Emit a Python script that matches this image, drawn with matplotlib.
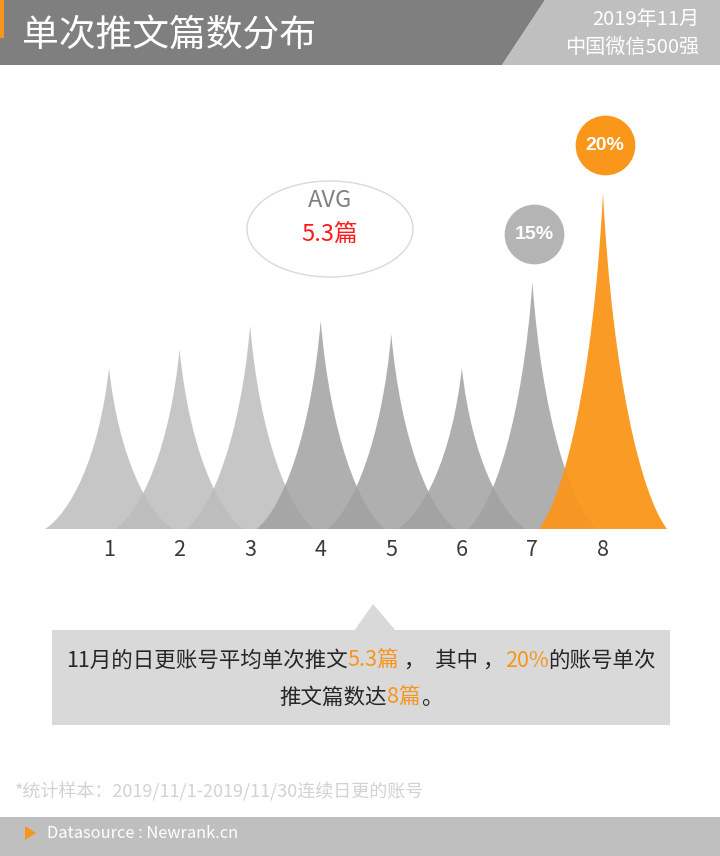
import numpy as np
import matplotlib
matplotlib.use("Agg")
import matplotlib.pyplot as plt
from matplotlib.path import Path
from matplotlib.patches import PathPatch, Polygon, Rectangle, Ellipse
from matplotlib.transforms import ScaledTranslation

plt.rcParams['font.family'] = ['Noto Sans CJK SC', 'DejaVu Sans']

# data (share of accounts, %)
categories = [1, 2, 3, 4, 5, 6, 7, 8]
shares = [9.6, 10.7, 12.1, 12.4, 11.6, 9.6, 14.7, 20.0]
badge_labels = ["", "", "", "", "", "", "15%", "20%"]
avg_posts = "5.3篇"

title = "单次推文篇数分布"
period = "2019年11月"
scope = "中国微信500强"
note = "*统计样本：2019/11/1-2019/11/30连续日更的账号"
source = "Datasource : Newrank.cn"
summary_lines = [
    [("11月的日更账号平均单次推文", "k"), ("5.3篇", "o"), (" ，  其中 ，", "k"),
     ("20%", "o"), ("的账号单次", "k")],
    [("推文篇数达", "k"), ("8篇", "o"), ("。", "k")],
]

W, H = 720, 856
ORANGE = "#fa961a"
LIGHT = "#bcbcbc"
DARK = "#a1a1a1"

fig = plt.figure(figsize=(W / 100, H / 100), dpi=100)

# overlay axes in pixel coordinates for the decorations
deco = fig.add_axes([0, 0, 1, 1])
deco.set_xlim(0, W)
deco.set_ylim(H, 0)
deco.axis("off")

# header
deco.add_patch(Polygon([(0, 0), (545, 0), (502, 65), (0, 65)], closed=True,
                       facecolor="#7f7f7f", edgecolor="none"))
deco.add_patch(Polygon([(545, 0), (W, 0), (W, 65), (502, 65)], closed=True,
                       facecolor="#bfbfbf", edgecolor="none"))
deco.add_patch(Rectangle((0, 0), 4, 38, facecolor="#f7941d", edgecolor="none"))
deco.text(22, 36, title, color="white", fontsize=26.5, va="center", ha="left")
deco.text(699, 19, period, color="white", fontsize=14.5, va="center", ha="right")
deco.text(699, 47, scope, color="white", fontsize=14.5, va="center", ha="right")

# AVG bubble
deco.add_patch(Ellipse((330, 229), 166, 96, facecolor="none",
                       edgecolor="#d9d9d9", lw=1))
deco.text(330, 200, "AVG", color="#808080", fontsize=17, ha="center",
          va="center", fontweight="light")
deco.text(330, 235, avg_posts, color="#ff1a1a", fontsize=17, ha="center",
          va="center", fontweight="light")

# summary callout
deco.add_patch(Rectangle((52, 630), 618, 95, facecolor="#d9d9d9",
                         edgecolor="none"))
deco.add_patch(Polygon([(354, 631), (373, 604), (396, 631)], closed=True,
                       facecolor="#d9d9d9", edgecolor="none"))

renderer = fig.canvas.get_renderer()
for line, y in zip(summary_lines, [661, 698]):
    texts = []
    for s, c in line:
        t = deco.text(0, y, s, fontsize=15.5, va="center", ha="left",
                      color="#f7941d" if c == "o" else "#262626")
        texts.append(t)
    widths = [t.get_window_extent(renderer).width for t in texts]
    x0 = 361 - sum(widths) / 2
    for t, w in zip(texts, widths):
        t.set_x(x0)
        x0 += w

# footnote and footer
deco.text(15, 792, note, color="#d2d2d2", fontsize=13, va="center", ha="left")
deco.add_patch(Rectangle((0, 817), W, 39, facecolor="#bfbfbf", edgecolor="none"))
deco.add_patch(Polygon([(25, 826), (36, 833), (25, 840)], closed=True,
                       facecolor="#f7941d", edgecolor="none"))
deco.text(47, 833, source, color="white", fontsize=11.8, va="center", ha="left")

# chart axes: baseline at y=529px, 20% reaches y=193px
px_unit = 7 / (603 - 109)
ax = fig.add_axes([40 / W, (H - 529) / H, 632 / W, 429 / H])
ax.set_xlim(1 - 69 * px_unit, 8 + 69 * px_unit)
ax.set_ylim(0, 429 / 16.8)
ax.patch.set_alpha(0)
for sp in ax.spines.values():
    sp.set_visible(False)
ax.set_yticks([])
ax.set_xticks(categories)
ax.set_xticklabels([str(c) for c in categories])
ax.tick_params(axis="x", length=0, pad=7, labelsize=15.5, labelcolor="#3a3a3a")

half = 64 * px_unit


def spike(xc, h):
    # concave spike made of two cubic curves
    verts = [(xc - half, 0),
             (xc - 0.6 * half, 0.1 * h), (xc - 0.15 * half, 0.45 * h), (xc, h),
             (xc + 0.15 * half, 0.45 * h), (xc + 0.6 * half, 0.1 * h), (xc + half, 0),
             (xc - half, 0)]
    codes = [Path.MOVETO] + [Path.CURVE4] * 6 + [Path.CLOSEPOLY]
    return Path(verts, codes)


for i, (c, v) in enumerate(zip(categories, shares)):
    if i == len(categories) - 1:
        col, a = ORANGE, 0.95
    elif i < 3:
        col, a = LIGHT, 0.85
    else:
        col, a = DARK, 0.85
    ax.add_patch(PathPatch(spike(c, v), facecolor=col, edgecolor="none",
                           alpha=a, zorder=2 + i))

# badges above the two highest spikes
lift = ax.transData + ScaledTranslation(2 / 100, 48 / 100, fig.dpi_scale_trans)
for c, v, lab in zip(categories, shares, badge_labels):
    if not lab:
        continue
    col = ORANGE if lab == badge_labels[-1] else "#b4b4b4"
    ax.plot([c], [v], marker="o", ms=43, color=col, mec="none",
            transform=lift, clip_on=False, zorder=20)
    ax.text(c, v, lab, transform=lift, ha="center", va="center",
            color="white", fontsize=14, fontweight="bold",
            family="Liberation Sans", zorder=21)

fig.savefig("out.png", dpi=100)
